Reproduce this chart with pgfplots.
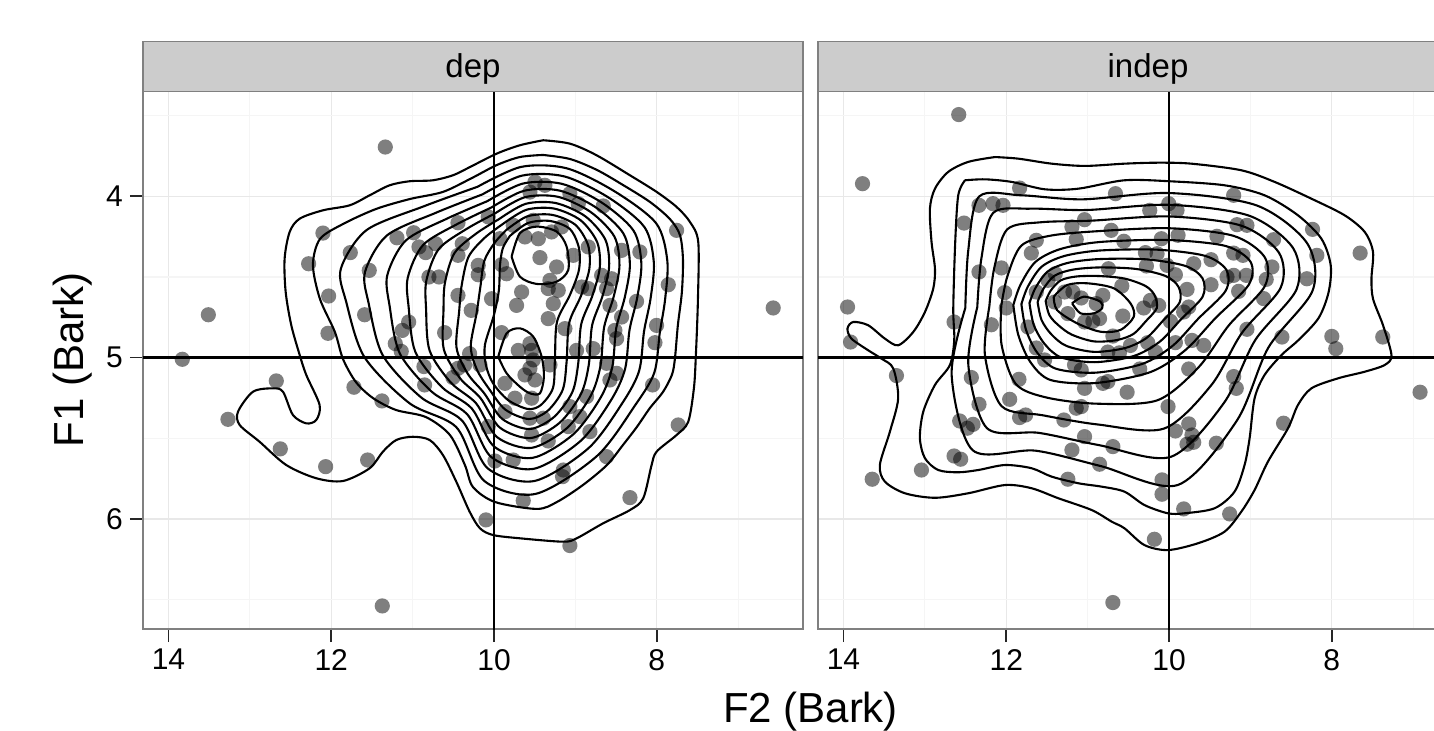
\documentclass[border=0pt]{standalone}
\usepackage{fontspec}
\setmainfont{Liberation Sans}
\usepackage{pgfplots}
\pgfplotsset{compat=1.18}
\pgfplotsset{
  panel/.style={
    scale only axis, width=330pt, height=268.75pt,
    x dir=reverse, y dir=reverse,
    xmin=6.204, xmax=14.313, ymin=3.351, ymax=6.681,
    xtick={8,10,12,14}, minor xtick={7,9,11,13},
    ytick={4,5,6}, minor ytick={3.5,4.5,5.5,6.5},
    grid=both,
    major grid style={draw=black!9, line width=0.6pt},
    minor grid style={draw=black!4, line width=0.6pt},
    axis line style={draw=black!50, line width=0.75pt},
    tick align=outside, major tick length=6.5pt, minor tick length=0pt,
    tick style={draw=black!85, line width=0.8pt},
    xtick pos=left, ytick pos=left,
    /pgf/number format/assume math mode=true,
    tick label style={font=\fontsize{15}{15}\selectfont, text=black},
  },
  pts/.style={only marks, mark=*, mark size=3.8pt, draw opacity=0,
     mark options={draw opacity=0, fill=black, fill opacity=0.5}},
  cont/.style={black, line width=1.05pt, smooth, mark=none},
  refl/.style={black, line width=1.4pt, mark=none},
}
\begin{document}
\begin{tikzpicture}
\useasboundingbox (0,0) rectangle (717pt,365pt);
% ---------------- left panel: dep ----------------
\begin{axis}[panel, at={(71.5pt,50.5pt)}, anchor=south west]
\addplot[pts] coordinates {
(11.336,3.695) (13.51,4.734) (13.83,5.01) (12.102,4.228) (12.278,4.418) (11.766,4.349) (11.533,4.459) (12.032,4.618) (11.590,4.734) (12.040,4.849) (11.193,4.257) (10.988,4.226) (10.922,4.314) (10.840,4.349) (10.718,4.294) (10.443,4.164) (10.390,4.294) (10.443,4.366) (10.800,4.500) (10.677,4.500) (10.443,4.614) (10.280,4.707) (11.049,4.779) (11.127,4.831) (11.213,4.913) (11.140,4.961) (10.607,4.845) (10.300,4.975)
(9.497,3.912) (9.375,3.932) (9.559,3.974) (9.068,3.984) (8.965,4.046) (8.658,4.060) (10.071,4.128) (9.764,4.180) (9.518,4.149) (9.293,4.221) (9.170,4.190) (9.620,4.252) (9.456,4.263) (9.928,4.263) (7.757,4.211) (8.433,4.335) (8.208,4.345) (8.842,4.314) (9.027,4.366) (9.436,4.380) (9.231,4.438) (10.194,4.428) (10.194,4.486) (9.907,4.424) (9.846,4.480) (9.313,4.521) (9.334,4.572) (9.661,4.593) (9.211,4.583) (8.924,4.562) (8.842,4.572) (8.678,4.490) (8.555,4.511) (8.617,4.572) (7.859,4.548) (6.570,4.692) (10.030,4.635) (9.723,4.676) (9.272,4.665) (8.576,4.676) (8.249,4.651) (9.334,4.758) (8.433,4.748) (9.129,4.820) (8.515,4.831) (8.494,4.882) (8.003,4.800) (8.023,4.907) (9.907,4.845) (9.559,4.913) (9.702,4.955) (9.538,4.955) (8.986,4.955) (8.781,4.944)
(12.675,5.144) (13.269,5.382) (12.626,5.565) (12.069,5.675) (11.553,5.634) (11.721,5.183) (11.377,5.268) (10.861,5.055) (10.853,5.169) (10.505,5.123) (10.443,5.066) (10.362,5.045) (11.373,6.538)
(10.173,5.045) (9.559,5.066) (9.620,5.107) (9.497,5.138) (9.313,5.045) (9.518,5.014) (8.617,5.035) (8.494,5.097) (8.576,5.138) (8.052,5.169) (9.866,5.159) (9.743,5.251) (9.538,5.251) (8.863,5.241) (9.068,5.303) (8.945,5.365) (9.866,5.334) (9.559,5.375) (9.395,5.375) (10.071,5.427) (9.538,5.479) (9.334,5.516) (9.088,5.427) (8.822,5.458) (7.737,5.417) (9.989,5.640) (9.764,5.634) (9.149,5.696) (9.158,5.737) (8.617,5.613) (9.641,5.886) (8.330,5.867) (10.099,6.005) (9.068,6.164)
};
% contours
\addplot[cont] coordinates {(9.396,3.653) (9.068,3.674) (8.740,3.746) (8.330,3.870) (8.002,3.973) (7.757,4.066) (7.593,4.159) (7.491,4.283) (7.495,4.643) (7.520,4.983) (7.544,5.188) (7.614,5.397) (7.757,5.479) (8.002,5.582) (8.064,5.665) (8.167,5.871) (8.330,5.944) (8.659,6.026) (8.985,6.119) (9.150,6.140) (9.682,6.119) (10.010,6.099) (10.173,6.057) (10.300,5.954) (10.464,5.768) (10.628,5.603) (10.791,5.510) (10.996,5.490) (11.201,5.510) (11.365,5.582) (11.528,5.685) (11.856,5.764) (12.184,5.747) (12.553,5.665) (12.880,5.521) (13.125,5.417) (13.146,5.335) (12.962,5.211) (12.716,5.190) (12.593,5.211) (12.471,5.355) (12.307,5.407) (12.184,5.386) (12.143,5.293) (12.307,5.107) (12.388,4.983) (12.491,4.799) (12.560,4.593) (12.573,4.387) (12.511,4.221) (12.388,4.139) (12.102,4.087) (11.774,4.056) (11.528,3.994) (11.283,3.932) (11.037,3.907) (10.751,3.901) (10.505,3.870) (10.296,3.819) (9.968,3.736) (9.682,3.684) (9.396,3.653)};
\addplot[cont] coordinates {(9.399,3.744) (9.068,3.769) (8.736,3.837) (8.416,3.930) (8.085,4.035) (7.839,4.141) (7.716,4.240) (7.679,4.389) (7.692,4.593) (7.741,4.797) (7.778,5.008) (7.815,5.107) (7.925,5.213) (8.085,5.312) (8.245,5.429) (8.416,5.541) (8.613,5.665) (8.908,5.789) (9.227,5.894) (9.473,5.937) (9.989,5.894) (10.259,5.801) (10.358,5.665) (10.542,5.479) (10.837,5.368) (11.205,5.324) (11.488,5.250) (11.697,5.151) (11.856,5.008) (11.955,4.841) (12.139,4.636) (12.225,4.426) (12.139,4.265) (11.856,4.172) (11.451,4.079) (11.033,4.017) (10.628,3.973) (10.272,3.887) (9.964,3.806) (9.682,3.757) (9.399,3.744)};
\addplot[cont] coordinates {(10.202,3.941) (9.667,3.818) (9.105,3.827) (8.514,3.971) (8.007,4.168) (7.871,4.399) (7.898,4.638) (7.964,4.847) (8.031,5.093) (8.264,5.293) (8.735,5.609) (9.490,5.844) (10.121,5.763) (10.463,5.431) (11.039,5.282) (11.594,4.995) (11.818,4.651) (11.882,4.449) (11.567,4.210) (10.862,4.062) (10.202,3.941)};
\addplot[cont] coordinates {(10.141,3.988) (9.655,3.872) (9.137,3.877) (8.599,4.006) (8.152,4.191) (8.037,4.408) (8.077,4.634) (8.157,4.837) (8.217,5.081) (8.418,5.277) (8.840,5.561) (9.504,5.764) (10.077,5.686) (10.394,5.389) (10.896,5.246) (11.368,4.984) (11.540,4.664) (11.585,4.469) (11.316,4.243) (10.713,4.102) (10.141,3.988)};
\addplot[cont] coordinates {(10.085,4.031) (9.643,3.921) (9.166,3.923) (8.677,4.039) (8.286,4.213) (8.190,4.416) (8.242,4.631) (8.335,4.827) (8.390,5.070) (8.561,5.262) (8.937,5.516) (9.517,5.689) (10.035,5.615) (10.331,5.350) (10.763,5.212) (11.158,4.973) (11.284,4.676) (11.311,4.488) (11.084,4.274) (10.576,4.138) (10.085,4.031)};
\addplot[cont] coordinates {(10.034,4.070) (9.632,3.966) (9.193,3.965) (8.749,4.069) (8.409,4.232) (8.331,4.424) (8.394,4.627) (8.499,4.818) (8.548,5.060) (8.692,5.249) (9.027,5.475) (9.530,5.621) (9.998,5.551) (10.273,5.315) (10.641,5.182) (10.967,4.964) (11.049,4.687) (11.060,4.505) (10.872,4.302) (10.451,4.172) (10.034,4.070)};
\addplot[cont] coordinates {(9.987,4.106) (9.622,4.006) (9.217,4.003) (8.814,4.097) (8.521,4.250) (8.459,4.430) (8.531,4.624) (8.647,4.810) (8.692,5.050) (8.812,5.236) (9.108,5.438) (9.541,5.559) (9.963,5.492) (10.220,5.283) (10.531,5.154) (10.792,4.955) (10.835,4.697) (10.831,4.521) (10.679,4.327) (10.336,4.202) (9.987,4.106)};
\addplot[cont] coordinates {(9.940,4.142) (9.612,4.047) (9.242,4.042) (8.879,4.124) (8.633,4.268) (8.586,4.437) (8.669,4.621) (8.796,4.802) (8.835,5.041) (8.931,5.224) (9.189,5.401) (9.552,5.498) (9.929,5.433) (10.167,5.250) (10.420,5.126) (10.618,4.946) (10.621,4.707) (10.603,4.536) (10.486,4.352) (10.222,4.232) (9.940,4.142)};
\addplot[cont] coordinates {(9.898,4.174) (9.604,4.084) (9.264,4.076) (8.938,4.148) (8.733,4.284) (8.701,4.443) (8.793,4.618) (8.930,4.795) (8.965,5.033) (9.038,5.213) (9.262,5.367) (9.562,5.442) (9.898,5.380) (10.120,5.221) (10.321,5.101) (10.461,4.938) (10.429,4.716) (10.397,4.550) (10.313,4.375) (10.119,4.259) (9.898,4.174)};
\addplot[cont] coordinates {(9.852,4.210) (9.594,4.125) (9.289,4.115) (9.003,4.176) (8.845,4.302) (8.829,4.450) (8.930,4.615) (9.078,4.787) (9.108,5.023) (9.157,5.200) (9.343,5.330) (9.573,5.380) (9.863,5.321) (10.067,5.189) (10.211,5.073) (10.286,4.930) (10.215,4.726) (10.169,4.566) (10.120,4.401) (9.995,4.290) (9.852,4.210)};
\addplot[cont] coordinates {(9.805,4.246) (9.584,4.166) (9.313,4.153) (9.068,4.203) (8.957,4.320) (8.957,4.457) (9.068,4.612) (9.227,4.779) (9.252,5.014) (9.276,5.188) (9.424,5.293) (9.584,5.318) (9.829,5.262) (10.014,5.157) (10.100,5.045) (10.112,4.921) (10.001,4.736) (9.940,4.581) (9.927,4.426) (9.891,4.320) (9.805,4.246)};
\addplot[cont] coordinates {(9.784,4.374) (9.682,4.229) (9.477,4.188) (9.231,4.219) (9.108,4.312) (9.088,4.457) (9.231,4.529) (9.477,4.543) (9.682,4.498) (9.784,4.374)};
\addplot[cont] coordinates {(9.948,4.994) (9.845,4.849) (9.682,4.818) (9.518,4.870) (9.415,4.994) (9.387,5.118) (9.436,5.221) (9.559,5.221) (9.682,5.180) (9.845,5.097) (9.948,4.994)};
\addplot[refl] coordinates {(10,3.3) (10,6.8)};
\addplot[refl] coordinates {(6.1,5) (14.4,5)};
\end{axis}
% ---------------- right panel: indep ----------------
\begin{axis}[panel, at={(409pt,50.5pt)}, anchor=south west, yticklabels={}, y tick style={draw=none}]
\addplot[pts] coordinates {
(12.584,3.494) (13.766,3.922) (11.836,3.949) (12.335,4.056) (12.163,4.046) (12.040,4.056) (12.519,4.166) (10.658,3.984) (11.038,4.145) (11.193,4.190) (10.711,4.211) (11.140,4.267) (10.555,4.279) (11.631,4.273) (11.692,4.352) (12.335,4.469) (12.060,4.444) (10.744,4.449) (11.488,4.521) (11.398,4.480) (12.020,4.597) (11.631,4.593) (11.406,4.655) (11.283,4.593) (11.181,4.593) (11.079,4.630) (10.813,4.614) (10.895,4.665) (10.580,4.556) (12.000,4.692) (11.733,4.810) (11.243,4.727) (11.038,4.779) (10.936,4.775) (10.854,4.758) (10.568,4.742) (10.690,4.866) (11.631,4.940) (12.183,4.796) (12.641,4.779) (13.950,4.686) (13.913,4.903) (10.752,4.965) (10.61,4.97)
(9.206,3.994) (10.004,4.046) (10.237,4.087) (9.902,4.087) (9.165,4.176) (9.043,4.180) (8.237,4.205) (7.652,4.352) (8.716,4.269) (8.184,4.366) (8.736,4.438) (8.306,4.511) (9.411,4.248) (9.889,4.242) (10.094,4.263) (10.290,4.349) (10.147,4.356) (10.278,4.432) (10.024,4.428) (9.922,4.486) (9.697,4.418) (9.484,4.393) (9.206,4.352) (9.092,4.366) (9.288,4.500) (9.206,4.490) (9.051,4.490) (8.806,4.515) (9.484,4.548) (9.779,4.577) (9.145,4.589) (8.838,4.634) (10.229,4.645) (10.127,4.676) (10.311,4.692) (9.758,4.686) (9.820,4.717) (9.983,4.775) (9.043,4.824) (8.613,4.872) (8.000,4.868) (7.951,4.944) (7.374,4.872) (10.262,4.907) (9.922,4.907) (9.718,4.893) (9.574,4.924) (10.474,4.924) (10.167,4.965)
(13.349,5.111) (12.429,5.123) (11.844,5.134) (11.529,5.014) (12.335,5.289) (11.958,5.258) (12.572,5.392) (12.408,5.413) (12.478,5.437) (11.836,5.371) (11.762,5.355) (11.292,5.386) (11.140,5.313) (11.079,5.303) (11.038,5.190) (11.161,5.045) (11.079,5.076) (10.813,5.159) (10.752,5.148) (11.038,5.489) (11.193,5.572) (10.690,5.551) (10.854,5.660) (11.243,5.753) (12.641,5.609) (12.560,5.629) (13.042,5.696) (13.647,5.753) (10.690,6.517)
(10.360,5.070) (10.515,5.214) (9.758,5.070) (9.206,5.117) (9.174,5.190) (6.916,5.214) (10.012,5.303) (8.593,5.406) (9.922,5.454) (9.758,5.410) (9.718,5.479) (9.779,5.536) (9.697,5.524) (9.419,5.530) (10.086,5.757) (10.086,5.846) (9.820,5.937) (9.255,5.968) (10.180,6.125)
};
\addplot[cont] coordinates {(12.138,3.757) (11.852,3.767) (11.442,3.798) (11.031,3.812) (10.548,3.798) (10.138,3.792) (9.727,3.798) (9.112,3.839) (8.703,3.911) (8.251,4.015) (7.842,4.118) (7.596,4.221) (7.494,4.345) (7.513,4.511) (7.494,4.635) (7.371,4.799) (7.267,4.985) (7.350,5.045) (7.596,5.087) (7.924,5.128) (8.251,5.190) (8.416,5.293) (8.539,5.438) (8.785,5.644) (8.949,5.820) (9.112,5.954) (9.318,6.078) (9.646,6.150) (10.015,6.192) (10.302,6.161) (10.548,6.057) (10.704,6.016) (10.950,5.944) (11.360,5.871) (11.688,5.809) (12.015,5.789) (12.467,5.840) (12.876,5.868) (13.245,5.840) (13.491,5.768) (13.553,5.665) (13.430,5.459) (13.328,5.252) (13.389,5.066) (13.533,5.006) (13.697,4.954) (13.902,4.882) (13.951,4.820) (13.881,4.779) (13.697,4.799) (13.491,4.882) (13.328,4.923) (13.143,4.841) (12.999,4.717) (12.897,4.572) (12.876,4.449) (12.918,4.283) (12.938,4.077) (12.876,3.953) (12.713,3.849) (12.467,3.787) (12.138,3.757)};
\addplot[cont] coordinates {(12.507,3.901) (12.261,3.895) (11.934,3.911) (11.523,3.957) (11.114,3.953) (10.548,3.901) (9.994,3.907) (9.318,3.932) (8.826,3.994) (8.416,4.118) (8.128,4.263) (8.014,4.426) (8.039,4.593) (8.162,4.754) (8.408,4.890) (8.617,4.983) (8.826,5.107) (8.949,5.252) (9.010,5.499) (9.072,5.665) (9.195,5.830) (9.441,5.933) (9.810,5.964) (10.015,5.964) (10.302,5.913) (10.548,5.830) (10.827,5.799) (11.114,5.778) (11.442,5.737) (11.688,5.685) (12.015,5.665) (12.344,5.696) (12.590,5.710) (12.836,5.696) (12.999,5.623) (13.061,5.499) (13.020,5.335) (12.876,5.169) (12.692,5.045) (12.639,4.890) (12.651,4.696) (12.627,4.283) (12.590,3.994) (12.507,3.901)};
\addplot[cont] coordinates {(12.503,4.692) (12.467,4.336) (12.334,4.002) (11.814,3.994) (11.060,4.019) (9.997,3.980) (8.922,4.057) (8.302,4.292) (8.236,4.584) (8.779,4.937) (9.167,5.390) (9.894,5.789) (10.842,5.671) (11.642,5.576) (12.413,5.573) (12.671,5.107) (12.503,4.692)};
\addplot[cont] coordinates {(12.356,4.687) (12.307,4.390) (12.161,4.103) (11.694,4.077) (11.006,4.085) (9.999,4.053) (9.018,4.120) (8.476,4.321) (8.433,4.576) (8.941,4.891) (9.325,5.280) (9.977,5.614) (10.858,5.542) (11.596,5.466) (12.236,5.437) (12.466,5.045) (12.356,4.687)};
\addplot[cont] coordinates {(12.208,4.683) (12.147,4.443) (11.988,4.205) (11.575,4.161) (10.951,4.151) (10.002,4.125) (9.113,4.182) (8.650,4.349) (8.629,4.567) (9.104,4.846) (9.482,5.171) (10.061,5.439) (10.873,5.414) (11.550,5.357) (12.058,5.300) (12.262,4.983) (12.208,4.683)};
\addplot[cont] coordinates {(12.061,4.678) (11.987,4.497) (11.815,4.306) (11.455,4.244) (10.897,4.217) (10.004,4.198) (9.209,4.245) (8.824,4.378) (8.826,4.559) (9.266,4.800) (9.640,5.061) (10.144,5.264) (10.889,5.285) (11.504,5.247) (11.881,5.164) (12.057,4.921) (12.061,4.678)};
\addplot[cont] coordinates {(11.913,4.674) (11.827,4.550) (11.642,4.407) (11.335,4.327) (10.843,4.283) (10.007,4.271) (9.305,4.308) (8.998,4.407) (9.023,4.550) (9.428,4.754) (9.797,4.952) (10.228,5.089) (10.904,5.157) (11.458,5.138) (11.704,5.027) (11.852,4.859) (11.913,4.674)};
\addplot[cont] coordinates {(11.814,4.668) (11.734,4.559) (11.564,4.436) (11.286,4.370) (10.848,4.336) (10.141,4.331) (9.551,4.370) (9.293,4.458) (9.305,4.586) (9.642,4.759) (9.957,4.927) (10.331,5.039) (10.909,5.093) (11.392,5.068) (11.618,4.970) (11.757,4.828) (11.814,4.668)};
\addplot[cont] coordinates {(11.715,4.662) (11.640,4.567) (11.486,4.464) (11.237,4.412) (10.853,4.389) (10.276,4.391) (9.797,4.432) (9.588,4.509) (9.587,4.622) (9.856,4.764) (10.117,4.902) (10.435,4.990) (10.914,5.028) (11.327,4.998) (11.532,4.913) (11.662,4.797) (11.715,4.662)};
\addplot[cont] coordinates {(11.615,4.655) (11.547,4.576) (11.409,4.493) (11.187,4.455) (10.858,4.441) (10.410,4.450) (10.043,4.494) (9.884,4.561) (9.869,4.657) (10.071,4.769) (10.277,4.878) (10.538,4.940) (10.919,4.964) (11.261,4.927) (11.445,4.856) (11.566,4.767) (11.615,4.655)};
\addplot[cont] coordinates {(11.516,4.649) (11.453,4.584) (11.331,4.521) (11.138,4.497) (10.863,4.494) (10.545,4.510) (10.289,4.556) (10.179,4.612) (10.151,4.693) (10.285,4.774) (10.437,4.853) (10.642,4.891) (10.924,4.899) (11.196,4.857) (11.359,4.799) (11.471,4.736) (11.516,4.649)};
\addplot[cont] coordinates {(11.417,4.622) (11.253,4.550) (11.007,4.539) (10.679,4.570) (10.474,4.663) (10.433,4.746) (10.597,4.828) (10.843,4.839) (11.130,4.787) (11.376,4.705) (11.417,4.622)};
\addplot[cont] coordinates {(11.191,4.663) (11.048,4.622) (10.843,4.653) (10.822,4.694) (10.925,4.725) (11.089,4.725) (11.191,4.663)};
\addplot[refl] coordinates {(10,3.3) (10,6.8)};
\addplot[refl] coordinates {(6.1,5) (14.4,5)};
\end{axis}
% strips
\draw[fill=black!20, draw=black!50, line width=0.75pt] (71.5pt,319.25pt) rectangle (401.5pt,344.15pt);
\draw[fill=black!20, draw=black!50, line width=0.75pt] (409pt,319.25pt) rectangle (739pt,344.15pt);
\node[font=\fontsize{16.5}{16.5}\selectfont, anchor=base, inner sep=0pt] at (236.5pt,326.4pt) {dep};
\node[font=\fontsize{16.5}{16.5}\selectfont, anchor=base, inner sep=0pt] at (574pt,326.4pt) {indep};
% axis titles
\node[font=\fontsize{21}{21}\selectfont, inner sep=0pt] at (405.25pt,9pt) {F2 (Bark)};
\node[font=\fontsize{21}{21}\selectfont, inner sep=0pt, rotate=90] at (36.5pt,185pt) {F1 (Bark)};
\end{tikzpicture}
\end{document}
